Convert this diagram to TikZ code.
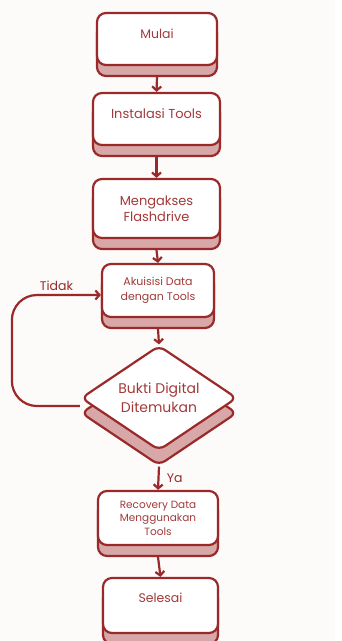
\documentclass[tikz,border=0pt]{standalone}
\usepackage{fontspec}
\setmainfont{Poppins}
\usepackage{tikz}
\usetikzlibrary{shapes.geometric,shadows,arrows.meta}

\definecolor{linered}{RGB}{154,42,42}
\definecolor{textred}{RGB}{163,58,58}
\definecolor{shadered}{RGB}{216,167,167}
\definecolor{paper}{RGB}{253,250,250}

\tikzset{
  stepbox/.style={draw=linered, line width=2.2pt, rounded corners=9pt, fill=white,
    text=textred, align=center, font=\fontsize{12.5}{15}\selectfont,
    copy shadow={shadow xshift=0pt, shadow yshift=-11pt, fill=shadered, draw=linered, line width=2.2pt}},
  topline/.style={text depth=11pt},
  decide/.style={diamond, aspect=1.5, draw=linered, line width=2.2pt, rounded corners=7pt,
    fill=white, text=textred, align=center, inner sep=0pt, font=\fontsize{14}{19}\selectfont,
    copy shadow={shadow xshift=0pt, shadow yshift=-15pt, fill=shadered, draw=linered, line width=2.2pt}},
  flow/.style={draw=linered, line width=2.2pt, -{Straight Barb[length=4pt,width=9pt]}},
  edgetext/.style={text=linered, font=\fontsize{12.5}{15}\selectfont}
}

\begin{document}
\begin{tikzpicture}[x=1pt,y=-1pt]
\fill[white] (0,0) rectangle (342,641);
\fill[paper] (0,0) rectangle (335,641);
\useasboundingbox (0,0) rectangle (342,641);

\node[stepbox, topline, minimum width=120pt, minimum height=52pt] (mulai) at (157,39) {Mulai};
\node[stepbox, topline, minimum width=127pt, minimum height=52pt, font=\fontsize{13}{15}\selectfont] (instal) at (156.5,119) {Instalasi Tools};
\node[stepbox, minimum width=127pt, minimum height=59pt, font=\fontsize{13}{16}\selectfont] (akses) at (156.5,208.5) {Mengakses\\Flashdrive};
\node[stepbox, minimum width=112pt, minimum height=53pt, font=\fontsize{11}{15}\selectfont] (akui) at (158,290.5) {Akuisisi Data\\dengan Tools};
\node[decide, minimum width=156pt, minimum height=105pt] (bukti) at (159,398) {Bukti Digital\\Ditemukan};
\node[stepbox, minimum width=120pt, minimum height=54pt, font=\fontsize{10.5}{13.5}\selectfont] (recov) at (158,518) {Recovery Data\\Menggunakan\\Tools};
\node[stepbox, topline, minimum width=115pt, minimum height=55pt, text depth=15pt] (selesai) at (160.5,605.5) {Selesai};

\draw[flow] ([yshift=-11pt]mulai.south) -- (instal.north);
\draw[flow] ([yshift=-11pt]instal.south) -- (akses.north);
\draw[flow] ([yshift=-11pt]akses.south) -- (akui.north);
\draw[flow] ([yshift=-11pt]akui.south) -- (bukti.north);
\draw[flow] ([yshift=-15pt]bukti.south) -- (recov.north) node[midway, right, xshift=4pt, edgetext] {Ya};
\draw[flow] ([yshift=-11pt]recov.south) -- (selesai.north);
\draw[flow, rounded corners=25pt] ([yshift=-8pt]bukti.west) -- ++(-68,0) |- ([yshift=-4.5pt]akui.west)
  node[pos=0.75, above, edgetext] {Tidak};
\end{tikzpicture}
\end{document}
